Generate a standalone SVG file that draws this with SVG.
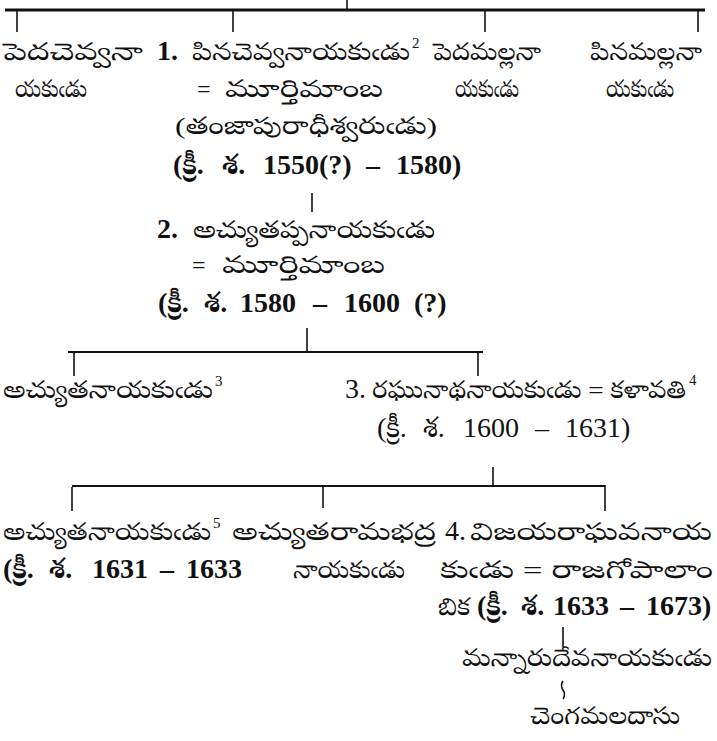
<svg xmlns="http://www.w3.org/2000/svg" width="717" height="741" viewBox="0 0 717 741">
<style>
text { font-family: "Liberation Serif", "Noto Serif Telugu", "Noto Sans Telugu", "Lohit Telugu", "Pothana2000", "Gautami", serif; font-size: 24px; fill: #111; }
.d { font-size: 28px; }
.b { font-weight: bold; }
.sup { font-size: 15px; }
.c line, .c path { stroke: #111; fill: none; }
.thick { stroke-width: 3; }
.mid { stroke-width: 2; }
.thin { stroke-width: 1.6; }
</style>
<rect width="717" height="741" fill="#fff"/>
<g id="connectors" class="c">
  <line class="thin" x1="347" y1="0" x2="347" y2="9"/>
  <line class="thick" x1="5" y1="10" x2="705" y2="10"/>
  <line class="thin" x1="17" y1="10" x2="17" y2="32"/>
  <line class="thin" x1="233" y1="10" x2="233" y2="32"/>
  <line class="thin" x1="485" y1="10" x2="485" y2="32"/>
  <line class="thin" x1="698" y1="10" x2="698" y2="32"/>
  <line class="thin" x1="312" y1="193" x2="312" y2="212"/>
  <line class="thin" x1="307" y1="328" x2="307" y2="351"/>
  <line class="mid" x1="68" y1="352" x2="483" y2="352"/>
  <line class="thin" x1="74" y1="353" x2="74" y2="376"/>
  <line class="thin" x1="478" y1="353" x2="478" y2="376"/>
  <line class="thin" x1="493" y1="467" x2="493" y2="485"/>
  <line class="mid" x1="72" y1="486" x2="605" y2="486"/>
  <line class="thin" x1="72" y1="487" x2="72" y2="511"/>
  <line class="thin" x1="323" y1="487" x2="323" y2="508"/>
  <line class="thin" x1="605" y1="485" x2="605" y2="511"/>
  <line class="thin" x1="563" y1="627" x2="563" y2="647"/>
  <path class="thin" d="M563,681 q-3,4.5 0,9 q3,4.5 0,9"/>
</g>
<g id="peda-chevva">
  <text x="3" y="60" textLength="140" lengthAdjust="spacingAndGlyphs">పెదచెవ్వనా</text>
  <text x="15" y="97" textLength="72" lengthAdjust="spacingAndGlyphs">యకుఁడు</text>
</g>
<g id="china-chevva">
  <text x="157" y="60" class="d b">1.</text>
  <text x="192" y="60" textLength="218" lengthAdjust="spacingAndGlyphs">పినచెవ్వనాయకుఁడు</text>
  <text x="412" y="48" class="sup">2</text>
  <text x="197" y="97">=</text>
  <text x="225" y="97" textLength="158" lengthAdjust="spacingAndGlyphs">మూర్తిమాంబ</text>
  <text x="175" y="134" textLength="262" lengthAdjust="spacingAndGlyphs">(తంజాపురాధీశ్వరుఁడు)</text>
  <text y="174" class="d b"><tspan x="173">(క్రీ.</tspan><tspan x="222">శ.</tspan><tspan x="263">1550(?)</tspan><tspan x="366">–</tspan><tspan x="396">1580)</tspan></text>
</g>
<g id="peda-malla">
  <text x="433" y="60" textLength="108" lengthAdjust="spacingAndGlyphs">పెదమల్లనా</text>
  <text x="455" y="97" textLength="64" lengthAdjust="spacingAndGlyphs">యకుఁడు</text>
</g>
<g id="china-malla">
  <text x="590" y="60" textLength="112" lengthAdjust="spacingAndGlyphs">పినమల్లనా</text>
  <text x="606" y="97" textLength="68" lengthAdjust="spacingAndGlyphs">యకుఁడు</text>
</g>
<g id="achyutappa">
  <text x="157" y="238" class="d b">2.</text>
  <text x="193" y="238" textLength="242" lengthAdjust="spacingAndGlyphs">అచ్యుతప్పనాయకుఁడు</text>
  <text x="192" y="273">=</text>
  <text x="222" y="273" textLength="163" lengthAdjust="spacingAndGlyphs">మూర్తిమాంబ</text>
  <text y="312" class="d b"><tspan x="158">(క్రీ.</tspan><tspan x="204">శ.</tspan><tspan x="240">1580</tspan><tspan x="313">–</tspan><tspan x="344">1600</tspan><tspan x="414">(?)</tspan></text>
</g>
<g id="achyuta-1">
  <text x="3" y="398" textLength="210" lengthAdjust="spacingAndGlyphs">అచ్యుతనాయకుఁడు</text>
  <text x="215" y="386" class="sup">3</text>
</g>
<g id="raghunatha">
  <text x="345" y="398" class="d">3.</text>
  <text x="372" y="398" textLength="314" lengthAdjust="spacingAndGlyphs">రఘునాథనాయకుఁడు = కళావతి</text>
  <text x="689" y="385" class="sup">4</text>
  <text y="437" class="d"><tspan x="377">(క్రీ.</tspan><tspan x="423">శ.</tspan><tspan x="463">1600</tspan><tspan x="535">–</tspan><tspan x="565">1631)</tspan></text>
</g>
<g id="achyuta-2">
  <text x="3" y="540" textLength="208" lengthAdjust="spacingAndGlyphs">అచ్యుతనాయకుఁడు</text>
  <text x="213" y="528" class="sup">5</text>
  <text y="578" class="d b"><tspan x="3">(క్రీ.</tspan><tspan x="49">శ.</tspan><tspan x="92">1631</tspan><tspan x="160">–</tspan><tspan x="186">1633</tspan></text>
</g>
<g id="achyutarama">
  <text x="232" y="540" textLength="204" lengthAdjust="spacingAndGlyphs">అచ్యుతరామభద్ర</text>
  <text x="293" y="578" textLength="112" lengthAdjust="spacingAndGlyphs">నాయకుఁడు</text>
</g>
<g id="vijayaraghava">
  <text x="445" y="540" class="d">4.</text>
  <text x="470" y="540" textLength="242" lengthAdjust="spacingAndGlyphs">విజయరాఘవనాయ</text>
  <text x="440" y="578" textLength="273" lengthAdjust="spacingAndGlyphs">కుఁడు = రాజగోపాలాం</text>
  <text x="438" y="615" textLength="32" lengthAdjust="spacingAndGlyphs">బిక</text>
  <text y="615" class="d b"><tspan x="477">(క్రీ.</tspan><tspan x="521">శ.</tspan><tspan x="553">1633</tspan><tspan x="620">–</tspan><tspan x="646">1673)</tspan></text>
</g>
<g id="mannaru">
  <text x="462" y="666" textLength="250" lengthAdjust="spacingAndGlyphs">మన్నారుదేవనాయకుఁడు</text>
</g>
<g id="chengamala">
  <text x="530" y="724" textLength="150" lengthAdjust="spacingAndGlyphs">చెంగమలదాసు</text>
</g>
</svg>
